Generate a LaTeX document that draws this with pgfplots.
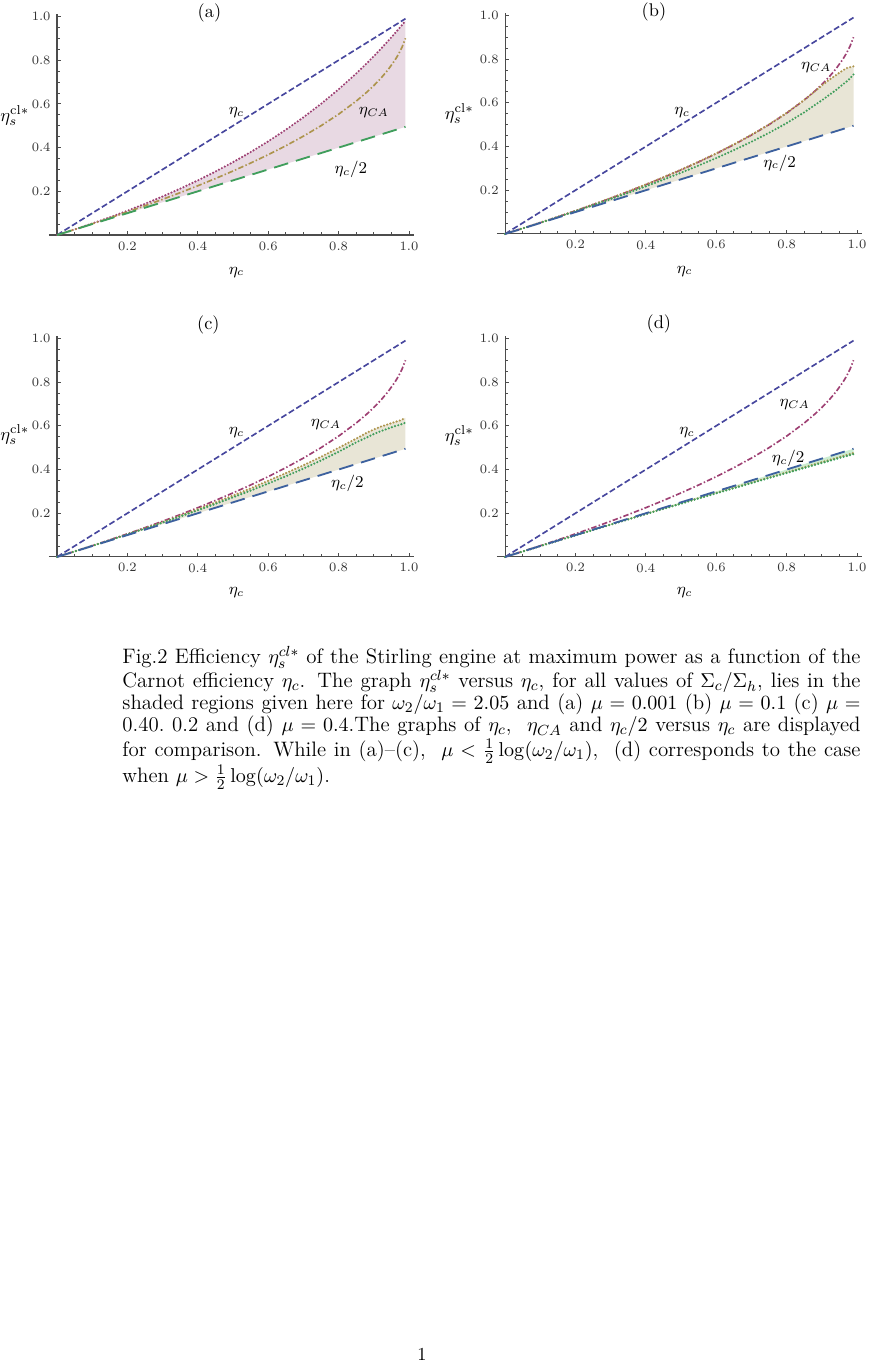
\documentclass[10pt,border=0pt]{standalone}
\usepackage{pgfplots}
\usepackage{pgfplotstable}
\pgfplotsset{compat=1.18}
\usepgfplotslibrary{fillbetween}

\definecolor{cEta}{rgb}{0.28,0.28,0.62}
\definecolor{cMag}{rgb}{0.62,0.25,0.45}
\definecolor{cTan}{rgb}{0.68,0.58,0.30}
\definecolor{cGrn}{rgb}{0.25,0.62,0.36}
\definecolor{cBlu}{rgb}{0.24,0.38,0.62}
\definecolor{cPink}{rgb}{0.91,0.85,0.89}
\definecolor{cBeige}{rgb}{0.91,0.90,0.84}
\definecolor{cLGrn}{rgb}{0.80,0.93,0.82}

% panel (a): upper bound, eta_CA, eta_c/2
\pgfplotstableread{
x    half   ca     up
0    0      0      0
0.05 0.025  0.0253 0.0256
0.1  0.05   0.0513 0.0526
0.15 0.075  0.0780 0.0811
0.2  0.1    0.1056 0.1111
0.25 0.125  0.1340 0.1429
0.3  0.15   0.1633 0.1765
0.35 0.175  0.1938 0.2121
0.4  0.2    0.2254 0.25
0.45 0.225  0.2584 0.2903
0.5  0.25   0.2929 0.3333
0.55 0.275  0.3292 0.3793
0.6  0.3    0.3675 0.4286
0.65 0.325  0.4084 0.4815
0.7  0.35   0.4523 0.5385
0.75 0.375  0.5    0.6
0.8  0.4    0.5528 0.6667
0.85 0.425  0.6127 0.7391
0.88 0.44   0.6536 0.7857
0.9  0.45   0.6838 0.8182
0.92 0.46   0.7172 0.8519
0.94 0.47   0.7551 0.8868
0.96 0.48   0.8    0.9231
0.97 0.485  0.8268 0.9417
0.98 0.49   0.8586 0.9608
0.99 0.495  0.9    0.9802
}\tabA

% panel (b)
\pgfplotstableread{
x    half   ca     up     lo
0    0      0      0      0
0.05 0.025  0.0253 0.0253 0.0252
0.1  0.05   0.0513 0.0515 0.0509
0.15 0.075  0.0780 0.0784 0.0771
0.2  0.1    0.1056 0.1061 0.1039
0.25 0.125  0.1340 0.1346 0.1313
0.3  0.15   0.1633 0.1641 0.1593
0.35 0.175  0.1938 0.1947 0.1881
0.4  0.2    0.2254 0.2264 0.2178
0.45 0.225  0.2584 0.2595 0.2484
0.5  0.25   0.2929 0.2941 0.2800
0.55 0.275  0.3292 0.3304 0.3129
0.6  0.3    0.3675 0.3688 0.3473
0.65 0.325  0.4084 0.4098 0.3834
0.7  0.35   0.4523 0.4537 0.4216
0.75 0.375  0.5    0.5014 0.4625
0.8  0.4    0.5528 0.5540 0.5070
0.85 0.425  0.6127 0.6130 0.5564
0.88 0.44   0.6536 0.6520 0.5895
0.9  0.45   0.6838 0.6791 0.6113
0.92 0.46   0.7172 0.7043 0.6349
0.94 0.47   0.7551 0.7265 0.6581
0.96 0.48   0.8    0.7488 0.6848
0.97 0.485  0.8268 0.7584 0.6969
0.98 0.49   0.8586 0.7630 0.7111
0.99 0.495  0.9    0.7670 0.7299
}\tabB

% panel (c)
\pgfplotstableread{
x    half   ca     up     lo
0    0      0      0      0
0.05 0.025  0.0253 0.0252 0.0252
0.1  0.05   0.0513 0.0509 0.0507
0.15 0.075  0.0780 0.0772 0.0766
0.2  0.1    0.1056 0.1040 0.1030
0.25 0.125  0.1340 0.1315 0.1298
0.3  0.15   0.1633 0.1596 0.1571
0.35 0.175  0.1938 0.1885 0.1850
0.4  0.2    0.2254 0.2183 0.2135
0.45 0.225  0.2584 0.2490 0.2427
0.5  0.25   0.2929 0.2809 0.2727
0.55 0.275  0.3292 0.3140 0.3037
0.6  0.3    0.3675 0.3486 0.3358
0.65 0.325  0.4084 0.3834 0.3692
0.7  0.35   0.4523 0.4195 0.4042
0.75 0.375  0.5    0.4581 0.4413
0.8  0.4    0.5528 0.4993 0.4810
0.85 0.425  0.6127 0.5414 0.5245
0.88 0.44   0.6536 0.5682 0.5468
0.9  0.45   0.6838 0.5832 0.5622
0.92 0.46   0.7172 0.5963 0.5757
0.94 0.47   0.7551 0.6068 0.5869
0.96 0.48   0.8    0.6176 0.5984
0.97 0.485  0.8268 0.6217 0.6029
0.98 0.49   0.8586 0.6282 0.6079
0.99 0.495  0.9    0.6368 0.6145
}\tabC

% panel (d)
\pgfplotstableread{
x    half   ca     up     lo
0    0      0      0      0
0.05 0.025  0.0253 0.0250 0.0249
0.1  0.05   0.0513 0.0498 0.0498
0.15 0.075  0.0780 0.0746 0.0744
0.2  0.1    0.1056 0.0992 0.0990
0.25 0.125  0.1340 0.1238 0.1234
0.3  0.15   0.1633 0.1482 0.1478
0.35 0.175  0.1938 0.1726 0.1719
0.4  0.2    0.2254 0.1968 0.1960
0.45 0.225  0.2584 0.2210 0.2199
0.5  0.25   0.2929 0.2450 0.2438
0.55 0.275  0.3292 0.2690 0.2674
0.6  0.3    0.3675 0.2928 0.2910
0.65 0.325  0.4084 0.3166 0.3144
0.7  0.35   0.4523 0.3402 0.3378
0.75 0.375  0.5    0.3638 0.3609
0.8  0.4    0.5528 0.3872 0.3840
0.85 0.425  0.6127 0.4106 0.4069
0.88 0.44   0.6536 0.4245 0.4206
0.9  0.45   0.6838 0.4338 0.4298
0.92 0.46   0.7172 0.4431 0.4388
0.94 0.47   0.7551 0.4523 0.4479
0.96 0.48   0.8    0.4616 0.4570
0.97 0.485  0.8268 0.4662 0.4615
0.98 0.49   0.8586 0.4708 0.4660
0.99 0.495  0.9    0.4754 0.4705
}\tabD

\pgfplotsset{
  panel/.style={
    set layers, scale only axis, clip=false,
    width=199.3pt, height=120.4pt, anchor=origin,
    axis lines=middle, axis line style={-, black!70, line width=0.6pt},
    xmin=-0.023, xmax=1.015, ymin=0, ymax=1.01,
    xtick={0.2,0.4,0.6,0.8,1.0}, ytick={0.2,0.4,0.6,0.8,1.0},
    xticklabels={0.2,0.4,0.6,0.8,1.0}, yticklabels={0.2,0.4,0.6,0.8,1.0},
    minor xtick={0.05,0.1,...,1.0}, minor ytick={0.05,0.1,...,1.0},
    tick align=inside, major tick length=2.4pt, minor tick length=1.4pt,
    tick style={black!70, line width=0.5pt},
    ticklabel style={font=\scriptsize, text=black!80},
  },
  etac/.style={cEta, line width=0.9pt, dash pattern=on 3.3pt off 1.5pt},
  halfl/.style={line width=1pt, dash pattern=on 8pt off 4.4pt},
  cal/.style={line width=0.9pt, dash pattern=on 3pt off 1.2pt on 0.8pt off 1.2pt},
  dotl/.style={line width=1.3pt, line cap=round, dash pattern=on 0pt off 1.8pt},
}
\tikzset{lab/.style={font=\small}, ylab/.style={inner sep=1pt}}

\begin{document}
\begin{tikzpicture}

% (a)
\begin{axis}[panel, at={(31.1pt,-128.2pt)}]
\addplot[etac] coordinates {(0,0) (0.99,0.99)};
\addplot[dotl, cMag, name path=up] table[x=x, y=up] {\tabA};
\addplot[cal, cTan] table[x=x, y=ca] {\tabA};
\addplot[halfl, cGrn, name path=half] table[x=x, y=half] {\tabA};
\addplot[fill=cPink, draw=none] fill between[of=up and half];
\node at (axis cs:0.433,1.018) {(a)};
\node[lab] at (axis cs:0.51,0.56) {$\eta_c$};
\node[lab] at (axis cs:0.9,0.56) {$\eta_{CA}$};
\node[lab] at (axis cs:0.835,0.30) {$\eta_c/2$};
\node[ylab] at (axis cs:-0.12,0.545) {$\eta_s^{\mathrm{cl}*}$};
\node[lab] at (axis cs:0.51,-0.17) {$\eta_c$};
\end{axis}

% (b)
\begin{axis}[panel, at={(275.5pt,-127.6pt)}]
\addplot[etac] coordinates {(0,0) (0.99,0.99)};
\addplot[cal, cMag] table[x=x, y=ca] {\tabB};
\addplot[dotl, cTan, name path=up] table[x=x, y=up] {\tabB};
\addplot[dotl, cGrn] table[x=x, y=lo] {\tabB};
\addplot[halfl, cBlu, name path=half] table[x=x, y=half] {\tabB};
\addplot[fill=cBeige, draw=none] fill between[of=up and half];
\node at (axis cs:0.423,1.018) {(b)};
\node[lab] at (axis cs:0.503,0.554) {$\eta_c$};
\node[lab] at (axis cs:0.884,0.76) {$\eta_{CA}$};
\node[lab] at (axis cs:0.78,0.325) {$\eta_c/2$};
\node[ylab] at (axis cs:-0.13,0.55) {$\eta_s^{\mathrm{cl}*}$};
\node[lab] at (axis cs:0.51,-0.17) {$\eta_c$};
\end{axis}

% (c)
\begin{axis}[panel, at={(31.1pt,-303.8pt)}]
\addplot[etac] coordinates {(0,0) (0.99,0.99)};
\addplot[cal, cMag] table[x=x, y=ca] {\tabC};
\addplot[dotl, cTan, name path=up] table[x=x, y=up] {\tabC};
\addplot[dotl, cGrn] table[x=x, y=lo] {\tabC};
\addplot[halfl, cBlu, name path=half] table[x=x, y=half] {\tabC};
\addplot[fill=cBeige, draw=none] fill between[of=up and half];
\node at (axis cs:0.43,1.06) {(c)};
\node[lab] at (axis cs:0.51,0.567) {$\eta_c$};
\node[lab] at (axis cs:0.764,0.606) {$\eta_{CA}$};
\node[lab] at (axis cs:0.825,0.337) {$\eta_c/2$};
\node[ylab] at (axis cs:-0.12,0.56) {$\eta_s^{\mathrm{cl}*}$};
\node[lab] at (axis cs:0.51,-0.165) {$\eta_c$};
\end{axis}

% (d)
\begin{axis}[panel, at={(275.5pt,-303.8pt)}]
\addplot[etac] coordinates {(0,0) (0.99,0.99)};
\addplot[cal, cMag] table[x=x, y=ca] {\tabD};
\addplot[dotl, cTan] table[x=x, y=up] {\tabD};
\addplot[dotl, cGrn, name path=lo] table[x=x, y=lo] {\tabD};
\addplot[halfl, cBlu, name path=half] table[x=x, y=half] {\tabD};
\addplot[fill=cLGrn, draw=none] fill between[of=lo and half];
\node at (axis cs:0.437,1.064) {(d)};
\node[lab] at (axis cs:0.517,0.567) {$\eta_c$};
\node[lab] at (axis cs:0.823,0.698) {$\eta_{CA}$};
\node[lab] at (axis cs:0.804,0.452) {$\eta_c/2$};
\node[ylab] at (axis cs:-0.13,0.555) {$\eta_s^{\mathrm{cl}*}$};
\node[lab] at (axis cs:0.51,-0.165) {$\eta_c$};
\end{axis}

% caption
\node[anchor=north west, inner sep=0pt, text width=402.6pt, align=justify,
      font=\fontsize{11.4}{12}\selectfont]
  at (66.6pt,-352.3pt) {\noindent Fig.2 Efficiency $\eta_s^{cl*}$ of the Stirling engine at maximum power as a function of the\linebreak
  Carnot efficiency $\eta_c$. The graph $\eta_s^{cl*}$ versus $\eta_c$, for all values of $\Sigma_c/\Sigma_h$, lies in the\linebreak
  shaded regions given here for $\omega_2/\omega_1=2.05$ and (a) $\mu=0.001$ (b) $\mu=0.1$ (c) $\mu=$\linebreak
  0.40.\ 0.2 and (d) $\mu=0.4$.The graphs of $\eta_c$,~ $\eta_{CA}$ and $\eta_c/2$ versus $\eta_c$ are displayed\linebreak
  for comparison. While in (a)--(c),~ $\mu<\frac12\log(\omega_2/\omega_1)$,~ (d) corresponds to the case\linebreak
  when $\mu>\frac12\log(\omega_2/\omega_1)$.};

\node[anchor=base] at (230.2pt,-742pt) {1};

\pgfresetboundingbox
\path[use as bounding box] (0,0) rectangle (476.2pt,-743.5pt);
\end{tikzpicture}
\end{document}
